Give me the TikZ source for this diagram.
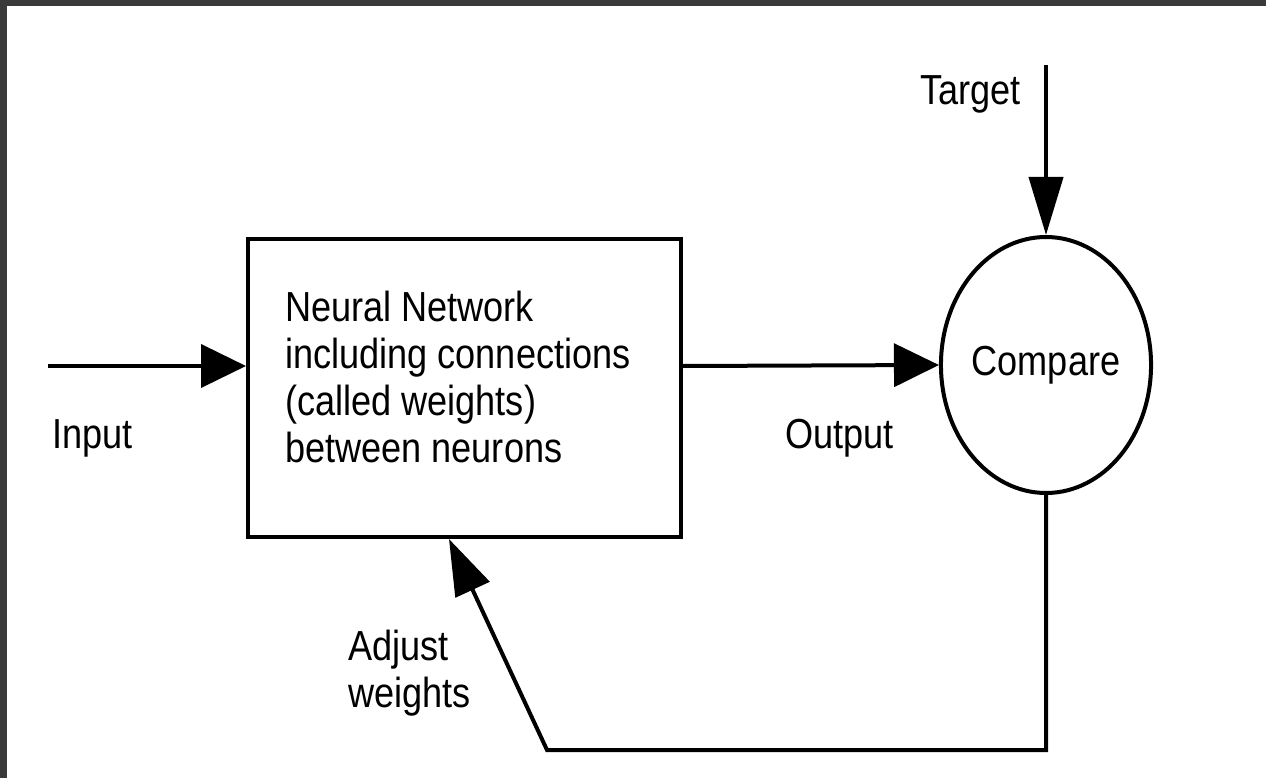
\documentclass[tikz,border=0pt]{standalone}
\usepackage{fontspec}
\setmainfont{Liberation Sans}[FakeStretch=0.86]
\usetikzlibrary{arrows.meta,shapes.geometric}
\definecolor{framegray}{HTML}{3A3A3A}
\tikzset{
  wire/.style={line width=4pt, draw=black},
  harrow/.style={wire, -{Triangle[length=45pt,width=43pt]}},
  varrow/.style={wire, -{Triangle[length=58pt,width=34pt]}},
  farrow/.style={wire, -{Triangle[length=56pt,width=37pt]}},
  lbl/.style={inner sep=0pt, anchor=base west, font=\fontsize{42}{47}\selectfont},
  nnbox/.style={draw, line width=4pt, minimum width=433pt, minimum height=298pt, inner sep=0pt},
  cmpshape/.style={draw, ellipse, line width=4pt, minimum width=202pt, minimum height=256pt, inner sep=0pt, font=\fontsize{42}{47}\selectfont}
}
\begin{document}
\begin{tikzpicture}[x=1pt,y=-1pt]
\useasboundingbox (0,0) rectangle (1266,778);
\fill[white] (0,0) rectangle (1266,778);
\fill[framegray] (0,0) rectangle (1266,6);
\fill[framegray] (0,0) rectangle (7,778);

\node[nnbox] (box) at (464.5,388) {};
\node[lbl, align=left] (boxtext) at (285,462) {Neural Network\\including connections\\(called weights)\\between neurons};
\node[cmpshape] (cmp) at (1046,365) {Compare};

\coordinate (inpt) at (48,366);
\coordinate (tgt) at (1046,65);
\coordinate (c1) at (1046,750);
\coordinate (c2) at (547,750);
\coordinate (fbtip) at (449,539);

\draw[harrow] (inpt) -- (box.west |- inpt);
\draw[harrow] (box.east |- inpt) -- (cmp.west);
\draw[varrow] (tgt) -- (cmp.north);
\draw[farrow, line join=miter] (cmp.south) -- (c1) -- (c2) -- (fbtip);

\node[lbl] (inlbl) at (52,448) {Input};
\node[lbl] (outlbl) at (785,448) {Output};
\node[lbl] (tgtlbl) at (920,105) {Target};
\node[lbl, align=left] (adjlbl) at (348,707) {Adjust\\weights};
\end{tikzpicture}
\end{document}
